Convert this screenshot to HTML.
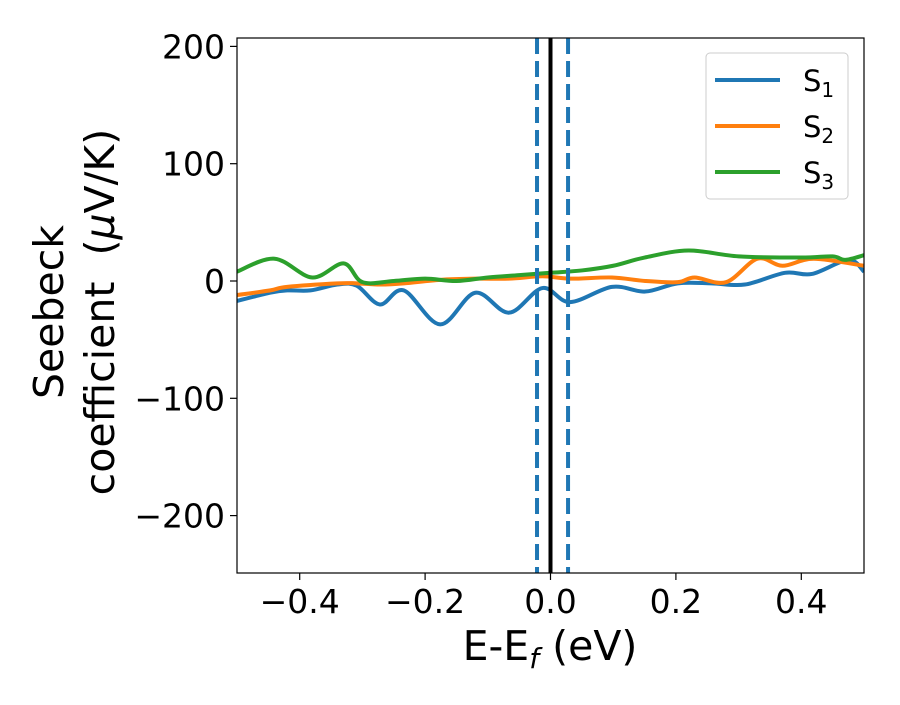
<!DOCTYPE html>
<html><head><meta charset="utf-8"><style>
body{margin:0;background:#fff}
text{font-family:"DejaVu Sans","Liberation Sans",sans-serif;fill:#000}
</style></head><body>
<svg width="900" height="700" viewBox="0 0 900 700">
<g id="plot"></g>
<g id="axes"></g>
<text x="550" y="660" font-size="41" text-anchor="middle">E-E<tspan font-size="28" dy="8" font-style="italic">f</tspan><tspan dy="-8"> (eV)</tspan></text>
<g transform="translate(63,312) rotate(-90)">
<text x="0" y="0" font-size="41" text-anchor="middle">Seebeck</text>
<text x="0" y="51" font-size="41" text-anchor="middle" xml:space="preserve">coefficient  (<tspan font-style="italic">μ</tspan>V/K)</text>
</g>
<g>
<rect x="706" y="53" width="142" height="146" rx="4" fill="#fff" stroke="#ccc" stroke-width="1"/>
<g><line x1="715" y1="80" x2="780" y2="80" stroke="#1f77b4" stroke-width="4"/><text x="803" y="91" font-size="29">S<tspan font-size="20" dy="6">1</tspan></text></g>
<g><line x1="715" y1="126" x2="780" y2="126" stroke="#ff7f0e" stroke-width="4"/><text x="803" y="137" font-size="29">S<tspan font-size="20" dy="6">2</tspan></text></g>
<g><line x1="715" y1="172" x2="780" y2="172" stroke="#2ca02c" stroke-width="4"/><text x="803" y="183" font-size="29">S<tspan font-size="20" dy="6">3</tspan></text></g>
</g>
</svg>
<script>
const blueX=[-0.5,-0.447,-0.42,-0.383,-0.34,-0.309,-0.272,-0.234,-0.176,-0.12,-0.066,-0.013,0.031,0.098,0.151,0.203,0.257,0.31,0.374,0.417,0.475,0.5];
const blueY=[-17,-10,-8,-8,-3,-4,-20,-8,-37,-10,-27,-6,-18,-5,-9,-2,-2,-3,7,6,18,8];
const orangeX=[-0.5,-0.447,-0.42,-0.34,-0.309,-0.272,-0.234,-0.176,-0.12,-0.066,-0.013,0.031,0.098,0.151,0.203,0.23,0.28,0.33,0.37,0.42,0.5];
const orangeY=[-12,-8,-5,-2,-2,-3,-2,1,2,2,4,2,3,0,-1,3,-1,19,13,19,13];
const greenX=[-0.5,-0.44,-0.38,-0.33,-0.3,-0.25,-0.2,-0.15,-0.1,-0.05,0,0.05,0.1,0.15,0.22,0.3,0.4,0.45,0.47,0.5];
const greenY=[8,19,3,15,-1,0,2,0,3,5,7,9,13,20,26,21,20,21,18,22];
const vlinesX=[-0.0215,0.028];
const xTicks=[-0.4,-0.2,0,0.2,0.4];
const xTickLabels=["−0.4","−0.2","0.0","0.2","0.4"];
const yTicks=[200,100,0,-100,-200];
const yTickLabels=["200","100","0","−100","−200"];
const L=237,R=864,T=38,B=573;
const sx=v=>550.5+v*627;
const sy=v=>281-v*1.173;
const NS="http://www.w3.org/2000/svg";
const plot=document.getElementById('plot'),axes=document.getElementById('axes');
function mk(t,a,p){const e=document.createElementNS(NS,t);for(const k in a)e.setAttribute(k,a[k]);p.appendChild(e);return e;}
const clip=mk('clipPath',{id:'cp'},plot);mk('rect',{x:L,y:T,width:R-L,height:B-T},clip);
function path(xs,ys){const p=xs.map((x,i)=>[sx(x),sy(ys[i])]);let d='M'+p[0][0]+','+p[0][1];
for(let i=0;i<p.length-1;i++){const p0=p[i-1]||p[i],p1=p[i],p2=p[i+1],p3=p[i+2]||p2;
d+=` C${p1[0]+(p2[0]-p0[0])/6},${p1[1]+(p2[1]-p0[1])/6} ${p2[0]-(p3[0]-p1[0])/6},${p2[1]-(p3[1]-p1[1])/6} ${p2[0]},${p2[1]}`;}return d;}
const g=mk('g',{'clip-path':'url(#cp)'},plot);
[[blueX,blueY,'#1f77b4','series-s1'],[orangeX,orangeY,'#ff7f0e','series-s2'],[greenX,greenY,'#2ca02c','series-s3']].forEach(s=>{
const e=mk('path',{d:path(s[0],s[1]),fill:'none',stroke:s[2],'stroke-width':4},g);

});
vlinesX.forEach(v=>{const e=mk('line',{x1:sx(v),x2:sx(v),y1:T,y2:B,stroke:'#1f77b4','stroke-width':4,'stroke-dasharray':'16,7'},g);

});
const f=mk('line',{x1:sx(0),x2:sx(0),y1:T,y2:B,stroke:'#000','stroke-width':4},g);


const fr=mk('rect',{x:L,y:T,width:R-L,height:B-T,fill:'none',stroke:'#000','stroke-width':1.2},axes);


xTicks.forEach((v,i)=>{mk('line',{x1:sx(v),x2:sx(v),y1:B,y2:B+7,stroke:'#000','stroke-width':1.2},axes);
const t=mk('text',{x:sx(v),y:B+40,'font-size':33,'text-anchor':'middle'},axes);t.textContent=xTickLabels[i];

});
yTicks.forEach((v,i)=>{mk('line',{x1:L-7,x2:L,y1:sy(v),y2:sy(v),stroke:'#000','stroke-width':1.2},axes);
const t=mk('text',{x:L-12,y:sy(v)+12,'font-size':33,'text-anchor':'end'},axes);t.textContent=yTickLabels[i];

});
</script>
</body></html>
